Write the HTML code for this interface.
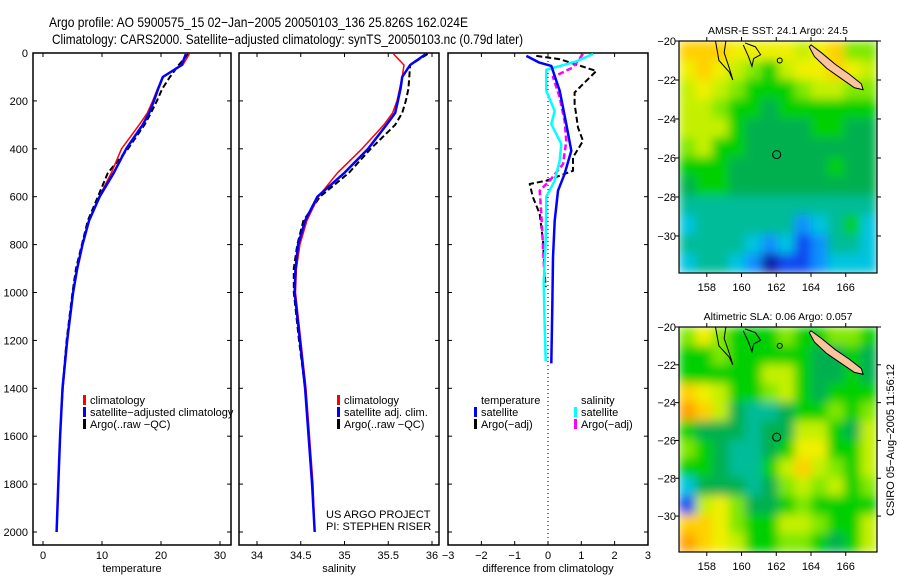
<!DOCTYPE html>
<html><head><meta charset="utf-8">
<style>
body{margin:0;background:#fff;}
svg{display:block;font-family:"Liberation Sans",sans-serif;}
text{font-size:11px;fill:#000;}
</style></head>
<body>
<svg id="fig" width="900" height="580" viewBox="0 0 900 580" xmlns="http://www.w3.org/2000/svg">
<defs>
<filter id="smooth" x="-5%" y="-5%" width="110%" height="110%"><feGaussianBlur stdDeviation="5" edgeMode="duplicate"/></filter>
<clipPath id="clip1"><rect x="679" y="41" width="198" height="232"/></clipPath>
<clipPath id="clip2"><rect x="679" y="327" width="198" height="225"/></clipPath>
</defs>
<rect width="900" height="580" fill="#fff"/>
<text x="49" y="27" style="font-size:14px" textLength="419" lengthAdjust="spacingAndGlyphs">Argo profile: AO 5900575_15 02−Jan−2005 20050103_136 25.826S 162.024E</text>
<text x="52" y="44" style="font-size:14px" textLength="471" lengthAdjust="spacingAndGlyphs">Climatology: CARS2000. Satellite−adjusted climatology: synTS_20050103.nc (0.79d later)</text>
<g id="g"></g>
</svg>
<script>
// ---- profile data ----
const depths = [4,50,100,150,200,250,300,400,500,600,700,800,900,1000,1200,1400,1600,1800,2000];
const tempClim = [24.8,23.7,20.3,19.4,18.6,17.7,16.3,13.3,11.6,9.5,7.8,6.7,5.8,5.1,4.1,3.4,2.9,2.6,2.3];
const tempSat = [24.2,23.5,20.3,19.5,18.8,18.0,16.9,14.1,12.0,9.6,7.8,6.7,5.8,5.1,4.1,3.3,2.9,2.6,2.3];
const tempArgo = [24.6,23.0,21.5,20.2,19.3,18.3,17.2,14.4,11.0,9.3,7.6,6.6,5.6,5.0,4.0,3.3];
const salClim = [35.56,35.68,35.66,35.63,35.60,35.55,35.45,35.20,34.92,34.70,34.57,34.49,34.45,34.44,34.50,34.56,34.60,34.64,34.66];
const salSat = [35.93,35.75,35.66,35.64,35.61,35.58,35.48,35.27,35.00,34.69,34.55,34.47,34.44,34.43,34.49,34.55,34.59,34.63,34.66];
const salArgo = [35.95,35.75,35.74,35.73,35.70,35.66,35.58,35.30,35.05,34.72,34.53,34.46,34.42,34.42,34.48,34.55];
// difference panel
const dTempSatDepth = [12,40,54,158,297,408,505,575,700,854,1062,1296];
const dTempSat = [-0.65,-0.26,0.1,0.35,0.55,0.70,0.5,0.3,0.2,0.15,0.13,0.1];
const dTempArgoDepth = [12,26,75,130,165,213,311,367,436,492,533,547,603,672,783,922,978];
const dTempArgo = [-0.35,0.35,1.45,1.05,0.8,0.8,0.9,1.05,0.75,0.75,-0.05,-0.55,-0.45,-0.25,-0.15,-0.1,-0.07];
const dSalSatDepth = [4,35,70,158,242,297,380,450,533,600,783,963,1142,1288];
const dSalSat = [1.35,0.85,-0.05,-0.05,0.2,0.1,0.4,0.35,0.2,-0.05,-0.07,-0.13,-0.1,-0.07];
const dSalArgoDepth = [4,60,100,185,283,367,464,533,575,672,811,950];
const dSalArgo = [1.05,0.75,0.15,0.35,0.5,0.55,0.45,0.05,-0.25,-0.2,-0.15,-0.1];
const depthTicks = [0,200,400,600,800,1000,1200,1400,1600,1800,2000];
const tempTicks = [0,10,20,30];
const salTicks = [34,34.5,35,35.5,36];
const diffTicks = [-3,-2,-1,0,1,2,3];
// ---- map data (palette index per cell, rows north->south) ----
const sstGrid = [
[10,10,10,9,9,9,9,8,9,10,7,7],
[9,10,9,8,7,6,8,9,9,10,9,8],
[8,9,8,7,6,6,6,7,8,8,7,7],
[8,8,7,6,6,5,6,6,6,6,6,6],
[8,8,8,6,5,5,5,5,6,6,5,5],
[7,8,6,6,5,5,5,5,5,5,5,5],
[6,6,6,5,5,5,5,5,5,6,5,5],
[5,6,6,5,5,5,5,5,5,5,5,5],
[4,4,4,4,4,4,4,4,4,4,4,4],
[3,4,4,4,4,4,4,2,3,4,6,3],
[4,4,4,4,3,2,3,1,2,4,4,3],
[3,4,4,3,2,0,1,1,2,3,3,3]];
const slaGrid = [
[7,9,7,6,6,6,7,6,6,7,7,6],
[6,6,7,6,6,6,6,6,5,5,6,5],
[6,6,6,6,6,8,8,6,5,5,6,5],
[10,9,8,6,6,7,8,6,5,6,6,6],
[11,10,8,5,4,4,5,6,6,7,6,7],
[6,5,5,5,4,5,5,8,8,6,5,8],
[7,6,5,4,4,5,6,9,9,6,6,8],
[6,6,5,4,4,6,8,10,8,7,6,8],
[3,5,5,5,4,5,7,8,7,8,6,7],
[1,8,9,7,5,5,6,7,6,6,6,6],
[10,10,9,7,6,6,8,8,7,6,6,8],
[11,10,9,8,6,6,7,7,6,5,6,8]];
const lonTicks = [158,160,162,164,166];
const latTicks = [-20,-22,-24,-26,-28,-30];
const palette = ['#0818a0','#0848f0','#0890ff','#00c4e0','#00bc98','#00b050','#00d000','#80e800','#c4f000','#f0f000','#ffd000','#ffa000'];
const argoLon = 162.024, argoLat = -25.826;

const NS='http://www.w3.org/2000/svg';
const G=document.getElementById('g');
function mk(tag,attrs,parent){const e=document.createElementNS(NS,tag);for(const k in attrs)e.setAttribute(k,attrs[k]);(parent||G).appendChild(e);return e;}
function txt(s,x,y,anchor,parent){const t=mk('text',{x:x,y:y,'text-anchor':anchor||'start'},parent);t.textContent=s;return t;}

const TOP=53,BOT=545,D0Y=53,D2000Y=532;
const yD=d=>D0Y+(D2000Y-D0Y)*d/2000;
const xT=v=>43+5.9*v;
const xS=v=>257+(v-34)*87.5;
const xD=v=>548+v*33.3;
const panels=[{l:33,r:231,xf:xT,ticks:tempTicks,title:'temperature',name:'temperature-panel'},
{l:239,r:439,xf:xS,ticks:salTicks,title:'salinity',name:'salinity-panel'},
{l:448,r:648,xf:xD,ticks:diffTicks,title:'difference from climatology',name:'difference-panel'}];
panels.forEach((p,i)=>{
  const g=mk('g',{});
  
  
  const r=mk('rect',{x:p.l,y:TOP,width:p.r-p.l,height:BOT-TOP,fill:'none',stroke:'#000','stroke-width':1.5},g);
  
  
  depthTicks.forEach(d=>{
    mk('line',{x1:p.l,x2:p.l+4,y1:yD(d),y2:yD(d),stroke:'#000'},g);
    mk('line',{x1:p.r,x2:p.r-4,y1:yD(d),y2:yD(d),stroke:'#000'},g);
    if(i===0){const t=txt(String(d),28,yD(d)+4,'end',g);
      
      }
  });
  p.ticks.forEach(v=>{
    const x=p.xf(v);
    mk('line',{x1:x,x2:x,y1:TOP,y2:TOP+4,stroke:'#000'},g);
    mk('line',{x1:x,x2:x,y1:BOT,y2:BOT-4,stroke:'#000'},g);
    const t=txt(String(v).replace('-','−'),x,559,'middle',g);
    
    
  });
  const at=txt(p.title,(p.l+p.r)/2,572,'middle',g);
  
  
});
function series(xs,ds,xf,color,w,dash,name){
  const pts=xs.map((v,i)=>xf(v).toFixed(1)+','+yD(ds[i]).toFixed(1)).join(' ');
  const pl=mk('polyline',{points:pts,fill:'none',stroke:color,'stroke-width':w,'stroke-dasharray':dash||'none','stroke-linejoin':'round'});
  
  
}
series(tempArgo,depths.slice(0,tempArgo.length),xT,'#000',2,'6,3','argo-temperature-line');
series(tempClim,depths,xT,'#f00',1.5,null,'climatology-temperature-line');
series(tempSat,depths,xT,'#00f',2.5,null,'satellite-temperature-line');
series(salArgo,depths.slice(0,salArgo.length),xS,'#000',2,'6,3','argo-salinity-line');
series(salClim,depths,xS,'#f00',1.5,null,'climatology-salinity-line');
series(salSat,depths,xS,'#00f',2.5,null,'satellite-salinity-line');
const zl=mk('line',{x1:xD(0),x2:xD(0),y1:TOP,y2:BOT,stroke:'#000','stroke-dasharray':'1,3'});


series(dTempArgo,dTempArgoDepth,xD,'#000',2,'6,3','argo-temperature-diff-line');
series(dSalArgo,dSalArgoDepth,xD,'#f0f',2.5,'6,3','argo-salinity-diff-line');
series(dSalSat,dSalSatDepth,xD,'#0ff',2.5,null,'satellite-salinity-diff-line');
series(dTempSat,dTempSatDepth,xD,'#00f',2.5,null,'satellite-temperature-diff-line');

function legend(items,x,y0){
  items.forEach((it,i)=>{
    const y=y0+i*12;
    if(it[1]){const m=mk('rect',{x:x,y:y-9,width:3,height:10,fill:it[1]});
      
      }
    const t=txt(it[0],x+7,y,'start');
    
    
  });
}
legend([['climatology','#f00'],['satellite−adjusted climatology','#00f'],['Argo(..raw −QC)','#000']],83,404);
legend([['climatology','#f00'],['satellite adj. clim.','#00f'],['Argo(..raw −QC)','#000']],337,404);
legend([['temperature',null],['satellite','#00f'],['Argo(−adj)','#000']],474,404);
legend([['salinity',null],['satellite','#0ff'],['Argo(−adj)','#f0f']],574,404);
let t1=txt('US ARGO PROJECT',326,518);
let t2=txt('PI: STEPHEN RISER',326,530);

// ---- maps ----
const LON0=156.4,LON1=167.8,LAT0=-20,LAT1=-31.9;
function drawMap(grid,top,bottom,title,name,clip){
  const L=679,R=877;
  const lx=v=>L+(v-LON0)*(R-L)/(LON1-LON0);
  const ly=v=>top+(v-LAT0)*(bottom-top)/(LAT1-LAT0);
  const g=mk('g',{});
  
  
  const cg=mk('g',{'clip-path':'url(#'+clip+')'},g);
  const fg=mk('g',{filter:'url(#smooth)'},cg);
  const rows=grid.length,cols=grid[0].length;
  const dLon=(LON1-LON0)/cols,dLat=(LAT1-LAT0)/rows;
  grid.forEach((row,ri)=>row.forEach((c,ci)=>{
    const x0=lx(LON0+ci*dLon),x1=lx(LON0+(ci+1)*dLon),y0=ly(LAT0+ri*dLat),y1=ly(LAT0+(ri+1)*dLat);
    const cell=mk('rect',{x:x0,y:y0,width:x1-x0+0.5,height:y1-y0+0.5,fill:palette[c]},fg);
    
    
  }));
  const nc=[[164.0,-20.2],[164.6,-20.6],[165.4,-21.2],[166.2,-21.7],[166.9,-22.2],[167.0,-22.5],[166.5,-22.4],[165.7,-21.9],[164.9,-21.4],[164.2,-20.8],[163.9,-20.3]];
  const p=mk('polygon',{points:nc.map(a=>lx(a[0])+','+ly(a[1])).join(' '),fill:'#fcc49a',stroke:'#000','stroke-width':1},g);
  
  
  const reef=[[158.5,-20],[158.7,-21.0],[159.3,-21.6],[159.5,-22.0],[159.3,-21.4],[159.0,-20.6],[159.1,-20]];
  const rf=mk('polyline',{points:reef.map(a=>lx(a[0])+','+ly(a[1])).join(' '),fill:'none',stroke:'#000','stroke-width':1},g);
  
  
  const reef2=[[160.2,-20.1],[160.8,-20.3],[161.1,-20.7],[160.7,-20.9],[160.6,-21.3],[160.4,-20.8],[160.1,-20.2]];
  mk('polyline',{points:reef2.map(a=>lx(a[0])+','+ly(a[1])).join(' '),fill:'none',stroke:'#000','stroke-width':1},g);
  mk('circle',{cx:lx(162.2),cy:ly(-21.0),r:2.5,fill:'none',stroke:'#000'},g);
  const ci=mk('circle',{cx:lx(argoLon),cy:ly(argoLat),r:4,fill:'none',stroke:'#000','stroke-width':1},g);
  
  
  mk('rect',{x:L,y:top,width:R-L,height:bottom-top,fill:'none',stroke:'#000','stroke-width':1.2},g);
  lonTicks.forEach(v=>{
    mk('line',{x1:lx(v),x2:lx(v),y1:top,y2:top-4,stroke:'#000'},g);
    mk('line',{x1:lx(v),x2:lx(v),y1:bottom,y2:bottom+4,stroke:'#000'},g);
    const t=txt(String(v),lx(v),bottom+18,'middle',g);
    
    
  });
  latTicks.forEach(v=>{
    mk('line',{x1:L,x2:L-4,y1:ly(v),y2:ly(v),stroke:'#000'},g);
    mk('line',{x1:R,x2:R+4,y1:ly(v),y2:ly(v),stroke:'#000'},g);
    const t=txt(String(v).replace('-','−'),L-3,ly(v)+4,'end',g);
    
    
  });
  const tt=txt(title,(L+R)/2,top-7,'middle',g);
  tt.style.fontSize='10.5px';
  
  
}
drawMap(sstGrid,41,273,'AMSR-E SST: 24.1 Argo: 24.5','sst-map','clip1');
drawMap(slaGrid,327,552,'Altimetric SLA: 0.06 Argo: 0.057','sla-map','clip2');
const cs=txt('CSIRO 05−Aug−2005 11:56:12',0,0,'middle');
cs.setAttribute('transform','translate(894,440) rotate(-90)');


</script>
</body></html>
